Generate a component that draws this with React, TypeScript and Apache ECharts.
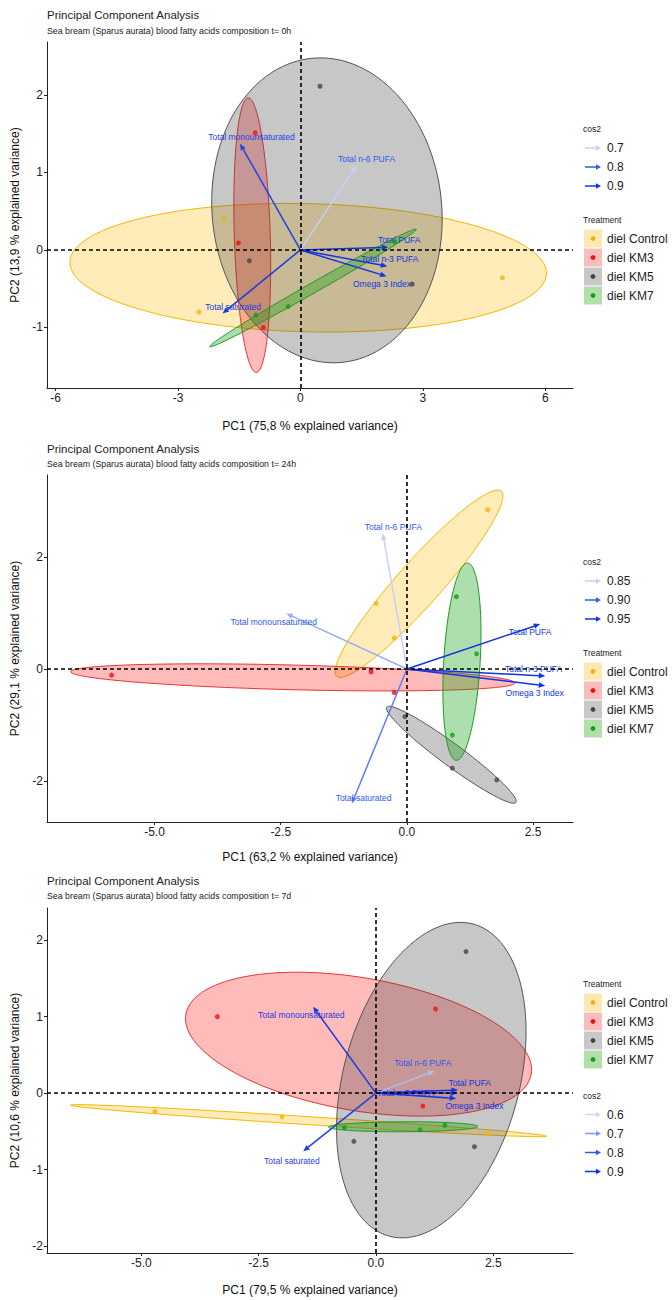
import React, { useEffect, useRef } from "react";
import * as echarts from "echarts";

const FONT = '"Liberation Sans", Arial, sans-serif';

const groups = ["diel Control", "diel KM3", "diel KM5", "diel KM7"];
const varNames = ["Total monounsaturated", "Total n-6 PUFA", "Total PUFA", "Total n-3 PUFA", "Omega 3 Index", "Total saturated"];

// ---------- Panel 1 : t = 0h ----------
const t0Control = [[-1.87, 0.40], [4.95, -0.36], [-2.49, -0.80]];
const t0KM3 = [[-1.11, 1.51], [-1.52, 0.09], [-0.91, -1.00]];
const t0KM5 = [[0.48, 2.11], [-1.25, -0.14], [2.74, -0.44]];
const t0KM7 = [[-0.30, -0.73], [-1.09, -0.84], [2.32, 0.10]];
// ellipses: [centerX, centerY, majorX, majorY, minorX, minorY]
const t0Ellipses = [
  [0.19, -0.23, 5.84, -0.074, -0.037, -0.826],
  [-1.18, 0.19, -0.10, 1.77, 0.44, 0.007],
  [0.65, 0.51, -0.37, 1.96, 2.80, 0.146],
  [0.31, -0.49, 2.53, 0.757, 0.061, -0.056],
];
const t0ArrowX = [-1.48, 1.38, 2.15, 2.13, 2.11, -1.91];
const t0ArrowY = [1.37, 1.09, 0.035, -0.21, -0.34, -0.82];
const t0Cos2 = [0.86, 0.68, 0.93, 0.92, 0.9, 0.88];
const t0LabelX = [-1.2, 1.62, 2.42, 2.19, 2.0, -1.65];
const t0LabelY = [1.46, 1.17, 0.13, -0.12, -0.44, -0.73];
const t0Cos2Legend = [0.7, 0.8, 0.9];
const t0XTicks = [-6, -3, 0, 3, 6];
const t0YTicks = [-1, 0, 1, 2];

// ---------- Panel 2 : t = 24h ----------
const t24Control = [[1.60, 2.84], [-0.61, 1.17], [-0.25, 0.55]];
const t24KM3 = [[-5.85, -0.11], [-0.71, -0.05], [-0.25, -0.42]];
const t24KM5 = [[-0.04, -0.85], [0.90, -1.77], [1.78, -1.98]];
const t24KM7 = [[0.98, 1.29], [1.38, 0.27], [0.90, -1.18]];
const t24Ellipses = [
  [0.24, 1.52, 1.63, 1.65, 0.325, -0.26],
  [-2.26, -0.15, 4.40, -0.10, 0, 0.22],
  [0.88, -1.53, 1.28, -0.85, -0.129, -0.159],
  [1.09, 0.13, 0.113, 1.76, 0.36, -0.019],
];
const t24ArrowX = [-2.39, -0.48, 2.64, 2.74, 2.74, -1.09];
const t24ArrowY = [0.99, 2.42, 0.80, -0.125, -0.30, -2.40];
const t24Cos2 = [0.865, 0.85, 0.95, 0.97, 0.96, 0.885];
const t24LabelX = [-2.64, -0.27, 2.44, 2.51, 2.53, -0.86];
const t24LabelY = [0.845, 2.54, 0.655, 0.0, -0.43, -2.30];
const t24Cos2Legend = [0.85, 0.9, 0.95];
const t24XTicks = [-5, -2.5, 0, 2.5];
const t24YTicks = [-2, 0, 2];

// ---------- Panel 3 : t = 7d ----------
const t7Control = [[-4.71, -0.24], [-2.0, -0.31], [2.39, -0.53]];
const t7KM3 = [[1.27, 1.10], [-3.38, 1.00], [1.0, -0.17]];
const t7KM5 = [[1.92, 1.85], [-0.47, -0.63], [2.10, -0.70]];
const t7KM7 = [[-0.67, -0.45], [0.94, -0.48], [1.47, -0.42]];
const t7Ellipses = [
  [-1.44, -0.36, 5.07, -0.203, -0.0055, -0.052],
  [-0.37, 0.64, 3.68, -0.392, -0.243, -0.855],
  [1.18, 0.17, 0.896, 2.04, 1.81, -0.30],
  [0.58, -0.44, 1.59, 0.004, 0, 0.065],
];
const t7ArrowX = [-1.34, 1.25, 1.75, 1.73, 1.71, -1.55];
const t7ArrowY = [1.13, 0.29, 0.04, 0.0, -0.07, -0.76];
const t7Cos2 = [0.88, 0.64, 0.93, 0.94, 0.91, 0.86];
const t7LabelX = [-1.59, 1.0, 2.0, 0.63, 2.10, -1.79];
const t7LabelY = [1.02, 0.39, 0.13, 0.0, -0.17, -0.885];
const t7Cos2Legend = [0.6, 0.7, 0.8, 0.9];
const t7XTicks = [-5, -2.5, 0, 2.5];
const t7YTicks = [-2, -1, 0, 1, 2];

// ---------- styles ----------
const pointColors = ["#F2B400", "#EE1111", "#444444", "#12A012"];
const fillColors = ["rgba(255,185,0,0.28)", "rgba(255,0,0,0.27)", "rgba(70,70,70,0.30)", "rgba(20,160,20,0.35)"];
const strokeColors = ["#F5B800", "#E83535", "#555555", "#1E9A1E"];
const keyColors = ["#FDE8B4", "#F9BDBD", "#C8C8C8", "#B2DEAC"];
const stops3 = [[200, 208, 248], [50, 90, 235], [18, 52, 225]];
const stops4 = [[204, 212, 248], [130, 152, 240], [50, 88, 234], [18, 50, 222]];

function colorFor(c: number, legend: number[], stops: number[][]) {
  let rgb = stops[0];
  if (c <= legend[0]) rgb = stops[0];
  else if (c >= legend[legend.length - 1]) rgb = stops[stops.length - 1];
  else {
    for (let i = 0; i < legend.length - 1; i++) {
      if (c >= legend[i] && c <= legend[i + 1]) {
        const t = (c - legend[i]) / (legend[i + 1] - legend[i]);
        rgb = stops[i].map((v, j) => v + (stops[i + 1][j] - v) * t);
        break;
      }
    }
  }
  return `rgb(${Math.round(rgb[0])},${Math.round(rgb[1])},${Math.round(rgb[2])})`;
}

const panels = [
  {
    title: "Principal Component Analysis",
    subtitle: "Sea bream (Sparus aurata) blood fatty acids composition t= 0h",
    xName: "PC1 (75,8 % explained variance)",
    yName: "PC2 (13,9 % explained variance)",
    grid: { left: 47, top: 42, width: 526, height: 346 },
    xMin: -6.21, xMax: 6.68, yMin: -1.78, yMax: 2.68,
    xTicks: t0XTicks, yTicks: t0YTicks, xDec: 0,
    pts: [t0Control, t0KM3, t0KM5, t0KM7],
    ell: t0Ellipses,
    ax: t0ArrowX, ay: t0ArrowY, cos2: t0Cos2, lx: t0LabelX, ly: t0LabelY,
    cosLegend: t0Cos2Legend, cosLabels: ["0.7", "0.8", "0.9"], stops: stops3,
    titleY: 15, subY: 31, xNameGap: 32,
    cosFirst: true, legendTop: 129,
  },
  {
    title: "Principal Component Analysis",
    subtitle: "Sea bream (Sparus aurata) blood fatty acids composition t= 24h",
    xName: "PC1 (63,2 % explained variance)",
    yName: "PC2 (29,1 % explained variance)",
    grid: { left: 47, top: 475, width: 526, height: 347 },
    xMin: -7.13, xMax: 3.29, yMin: -2.73, yMax: 3.46,
    xTicks: t24XTicks, yTicks: t24YTicks, xDec: 1,
    pts: [t24Control, t24KM3, t24KM5, t24KM7],
    ell: t24Ellipses,
    ax: t24ArrowX, ay: t24ArrowY, cos2: t24Cos2, lx: t24LabelX, ly: t24LabelY,
    cosLegend: t24Cos2Legend, cosLabels: ["0.85", "0.90", "0.95"], stops: stops3,
    titleY: 449, subY: 464, xNameGap: 29,
    cosFirst: true, legendTop: 562,
  },
  {
    title: "Principal Component Analysis",
    subtitle: "Sea bream (Sparus aurata) blood fatty acids composition t= 7d",
    xName: "PC1 (79,5 % explained variance)",
    yName: "PC2 (10,6 % explained variance)",
    grid: { left: 47, top: 908, width: 526, height: 345 },
    xMin: -7.01, xMax: 4.2, yMin: -2.09, yMax: 2.42,
    xTicks: t7XTicks, yTicks: t7YTicks, xDec: 1,
    pts: [t7Control, t7KM3, t7KM5, t7KM7],
    ell: t7Ellipses,
    ax: t7ArrowX, ay: t7ArrowY, cos2: t7Cos2, lx: t7LabelX, ly: t7LabelY,
    cosLegend: t7Cos2Legend, cosLabels: ["0.6", "0.7", "0.8", "0.9"], stops: stops4,
    titleY: 881, subY: 896, xNameGap: 31,
    cosFirst: false, legendTop: 984,
  },
];

function buildOption() {
  const grid: any[] = [];
  const xAxis: any[] = [];
  const yAxis: any[] = [];
  const series: any[] = [];
  const graphic: any[] = [];

  panels.forEach((p, k) => {
    grid.push(p.grid);
    const axisCommon = {
      type: "value",
      gridIndex: k,
      splitLine: { show: false },
      axisLine: { show: true, onZero: false, lineStyle: { color: "#222", width: 1 } },
      axisTick: { show: true, length: 3, lineStyle: { color: "#222" } },
      nameLocation: "middle",
      nameTextStyle: { fontSize: 12, color: "#111", fontFamily: FONT },
    };
    xAxis.push({
      ...axisCommon,
      min: p.xMin, max: p.xMax,
      name: p.xName, nameGap: p.xNameGap,
      axisTick: { ...axisCommon.axisTick, customValues: p.xTicks },
      axisLabel: {
        customValues: p.xTicks, fontSize: 12, color: "#222", fontFamily: FONT, margin: 4,
        formatter: (v: number) => v.toFixed(p.xDec),
      },
    });
    yAxis.push({
      ...axisCommon,
      min: p.yMin, max: p.yMax,
      name: p.yName, nameGap: 24,
      axisTick: { ...axisCommon.axisTick, customValues: p.yTicks },
      axisLabel: {
        customValues: p.yTicks, fontSize: 12, color: "#222", fontFamily: FONT, margin: 4,
        formatter: (v: number) => String(v),
      },
    });

    // zero reference lines
    series.push({
      type: "scatter", xAxisIndex: k, yAxisIndex: k, data: [], silent: true,
      markLine: {
        silent: true, symbol: "none", animation: false,
        label: { show: false },
        lineStyle: { color: "#000", type: [4, 3], width: 1.6 },
        data: [{ xAxis: 0 }, { yAxis: 0 }],
      },
    });

    // ellipses
    p.ell.forEach((e, g) => {
      series.push({
        type: "custom", xAxisIndex: k, yAxisIndex: k, silent: true,
        dimensions: ["cx", "cy", "ux", "uy", "vx", "vy"],
        encode: { x: "cx", y: "cy" },
        data: [e],
        renderItem: (params: any, api: any) => {
          const cx = api.value(0), cy = api.value(1);
          const ux = api.value(2), uy = api.value(3);
          const vx = api.value(4), vy = api.value(5);
          const pts: number[][] = [];
          const n = 120;
          for (let i = 0; i < n; i++) {
            const t = (i / n) * Math.PI * 2;
            pts.push(api.coord([cx + ux * Math.cos(t) + vx * Math.sin(t), cy + uy * Math.cos(t) + vy * Math.sin(t)]));
          }
          return {
            type: "polygon",
            shape: { points: pts },
            style: { fill: fillColors[g], stroke: strokeColors[g], lineWidth: 1 },
          };
        },
      });
    });

    // arrows
    const arrowData = p.ax.map((x, i) => [x, p.ay[i], p.lx[i], p.ly[i], p.cos2[i]]);
    series.push({
      type: "custom", xAxisIndex: k, yAxisIndex: k, silent: true,
      dimensions: ["x", "y", "lx", "ly", "c"],
      encode: { x: "x", y: "y" },
      data: arrowData,
      renderItem: (params: any, api: any) => {
        const i = params.dataIndex;
        const o = api.coord([0, 0]);
        const e = api.coord([api.value(0), api.value(1)]);
        const l = api.coord([api.value(2), api.value(3)]);
        const c = api.value(4);
        const col = colorFor(c, p.cosLegend, p.stops);
        const tcol = colorFor(Math.max(c, p.cosLegend[p.cosLegend.length - 2]), p.cosLegend, p.stops);
        const ang = Math.atan2(e[1] - o[1], e[0] - o[0]);
        const L = 6.5, W = 2.8;
        const bx = e[0] - L * Math.cos(ang), by = e[1] - L * Math.sin(ang);
        const head = [
          [e[0], e[1]],
          [bx - W * Math.sin(ang), by + W * Math.cos(ang)],
          [bx + W * Math.sin(ang), by - W * Math.cos(ang)],
        ];
        return {
          type: "group",
          children: [
            { type: "line", shape: { x1: o[0], y1: o[1], x2: bx, y2: by }, style: { stroke: col, lineWidth: 1.5 } },
            { type: "polygon", shape: { points: head }, style: { fill: col } },
            {
              type: "text", x: l[0], y: l[1],
              style: { text: varNames[i], fill: tcol, fontSize: 8.5, fontFamily: FONT, align: "center", verticalAlign: "middle" },
            },
          ],
        };
      },
    });

    // points
    p.pts.forEach((arr, g) => {
      series.push({
        type: "scatter", xAxisIndex: k, yAxisIndex: k, silent: true,
        name: groups[g], data: arr, symbol: "circle", symbolSize: 5,
        itemStyle: { color: pointColors[g] },
      });
    });

    // titles
    graphic.push({
      type: "text", x: 47, y: p.titleY,
      style: { text: p.title, fill: "#222", fontSize: 11.5, fontFamily: FONT, verticalAlign: "middle" },
    });
    graphic.push({
      type: "text", x: 47, y: p.subY,
      style: { text: p.subtitle, fill: "#222", fontSize: 8.8, fontFamily: FONT, verticalAlign: "middle" },
    });

    // legends
    const cosBlock = (top: number) => {
      graphic.push({
        type: "text", x: 583, y: top,
        style: { text: "cos2", fill: "#222", fontSize: 8.5, fontFamily: FONT, verticalAlign: "middle" },
      });
      p.cosLegend.forEach((v, j) => {
        const yy = top + 19 + j * 19;
        const col = colorFor(v, p.cosLegend, p.stops);
        graphic.push({ type: "line", shape: { x1: 585, y1: yy, x2: 597, y2: yy }, style: { stroke: col, lineWidth: 1.5 } });
        graphic.push({ type: "polygon", shape: { points: [[601, yy], [596, yy - 2.7], [596, yy + 2.7]] }, style: { fill: col } });
        graphic.push({
          type: "text", x: 607, y: yy,
          style: { text: p.cosLabels[j], fill: "#222", fontSize: 12, fontFamily: FONT, verticalAlign: "middle" },
        });
      });
      return top + 19 + p.cosLegend.length * 19;
    };
    const treatBlock = (top: number) => {
      graphic.push({
        type: "text", x: 583, y: top,
        style: { text: "Treatment", fill: "#222", fontSize: 8.5, fontFamily: FONT, verticalAlign: "middle" },
      });
      groups.forEach((gname, j) => {
        const yy = top + 18.5 + j * 19;
        graphic.push({ type: "rect", shape: { x: 584, y: yy - 9, width: 18, height: 18 }, style: { fill: keyColors[j] } });
        graphic.push({ type: "circle", shape: { cx: 593, cy: yy, r: 2.4 }, style: { fill: pointColors[j] } });
        graphic.push({
          type: "text", x: 607, y: yy,
          style: { text: gname, fill: "#222", fontSize: 12, fontFamily: FONT, verticalAlign: "middle" },
        });
      });
      return top + 18.5 + groups.length * 19;
    };
    if (p.cosFirst) {
      const next = cosBlock(p.legendTop);
      treatBlock(next + 15);
    } else {
      const next = treatBlock(p.legendTop);
      cosBlock(next + 17);
    }
  });

  return {
    animation: false,
    backgroundColor: "#ffffff",
    textStyle: { fontFamily: FONT },
    grid,
    xAxis,
    yAxis,
    series,
    graphic,
  };
}

export default function App() {
  const ref = useRef<HTMLDivElement>(null);
  useEffect(() => {
    if (!ref.current) return;
    const chart = echarts.init(ref.current, null, { renderer: "svg" });
    chart.setOption(buildOption() as any);
    return () => chart.dispose();
  }, []);
  return (
    <div
      ref={ref}
      style={{ position: "absolute", left: 0, top: 0, width: 672, height: 1300, background: "#fff" }}
    />
  );
}
